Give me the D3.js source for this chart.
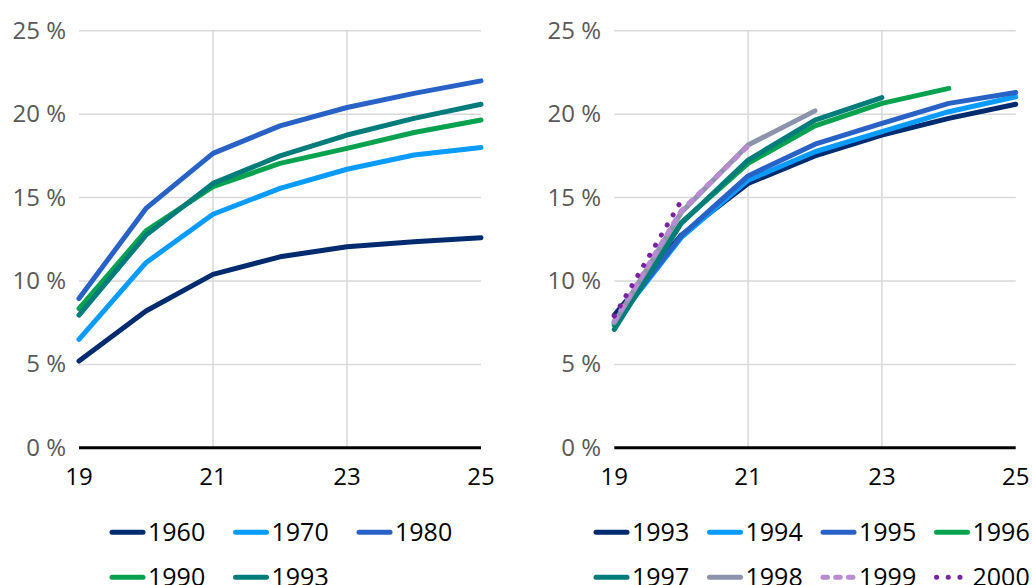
<!DOCTYPE html>
<html>
<head>
<meta charset="utf-8">
<script src="https://cdn.jsdelivr.net/npm/d3@7"></script>
<style>
  body { margin: 0; background: #fff; }
  svg text { font-family: "Open Sans", "Noto Sans", sans-serif; }
</style>
</head>
<body>
<div id="canvas"></div>
<script>
"use strict";

// ages on the x axis
const ages = [19, 20, 21, 22, 23, 24, 25];
const xTicks = [19, 21, 23, 25];
const yTicks = [0, 5, 10, 15, 20, 25];

// left panel: cohorts by decade
const leftYears = ["1960", "1970", "1980", "1990", "1993"];
const v1960 = [5.2, 8.2, 10.4, 11.45, 12.05, 12.35, 12.6];
const v1970 = [6.5, 11.1, 14.0, 15.55, 16.7, 17.55, 18.0];
const v1980 = [8.95, 14.35, 17.65, 19.3, 20.4, 21.25, 22.0];
const v1990 = [8.35, 13.0, 15.65, 17.05, 17.95, 18.9, 19.65];
const v1993 = [7.95, 12.75, 15.85, 17.5, 18.75, 19.75, 20.6];

// right panel: recent cohorts (shorter series)
const rightYears = ["1993", "1994", "1995", "1996", "1997", "1998", "1999", "2000"];
const v1994 = [7.45, 12.6, 16.05, 17.75, 18.95, 20.15, 21.05];
const v1995 = [7.55, 12.7, 16.3, 18.2, 19.45, 20.65, 21.3];
const v1996 = [7.35, 13.5, 17.05, 19.3, 20.65, 21.55];
const v1997 = [7.1, 13.45, 17.25, 19.65, 21.0];
const v1998 = [7.5, 14.1, 18.15, 20.2];
const v1999 = [7.6, 14.2, 18.1];
const v2000 = [7.9, 14.8];

const styles = {
  "1960": { color: "#002b6e", dash: null },
  "1970": { color: "#0a9bff", dash: null },
  "1980": { color: "#2862c6", dash: null },
  "1990": { color: "#07a24f", dash: null },
  "1993": { color: "#007c7a", dash: null },
  "1994": { color: "#0a9bff", dash: null },
  "1995": { color: "#2862c6", dash: null },
  "1996": { color: "#07a24f", dash: null },
  "1997": { color: "#007c7a", dash: null },
  "1998": { color: "#8e93ad", dash: null },
  "1999": { color: "#b98bd0", dash: "4.5,8.2" },
  "2000": { color: "#7b22a3", dash: "0.1,11.6" }
};

const leftSeries = [v1960, v1970, v1980, v1990, v1993];
const rightSeries = [v1993, v1994, v1995, v1996, v1997, v1998, v1999, v2000];
// 1993 is navy in the right panel
const rightColors = { "1993": "#002b6e" };

const svg = d3.select("#canvas").append("svg")
  .attr("width", 1032)
  .attr("height", 585);

function drawPanel(x0, x1, labelRight, years, series, colorOverride, legend) {
  const x = d3.scaleLinear().domain([19, 25]).range([x0, x1]);
  const y = d3.scaleLinear().domain([0, 25]).range([447.8, 30.8]);
  const g = svg.append("g");

  // horizontal gridlines
  g.selectAll(".hgrid").data(yTicks.filter(d => d > 0)).join("line")
    .attr("x1", x0).attr("x2", x1)
    .attr("y1", d => y(d)).attr("y2", d => y(d))
    .attr("stroke", "#d9d9d9").attr("stroke-width", 1.5);

  // vertical gridlines
  g.selectAll(".vgrid").data([21, 23]).join("line")
    .attr("x1", d => x(d)).attr("x2", d => x(d))
    .attr("y1", y(25)).attr("y2", y(0))
    .attr("stroke", "#d9d9d9").attr("stroke-width", 1.5);

  // y labels
  g.selectAll(".ylab").data(yTicks).join("text")
    .attr("x", labelRight)
    .attr("y", d => y(d) + 8)
    .attr("text-anchor", "end")
    .attr("font-size", 24)
    .attr("fill", "#595959")
    .text(d => d + " %");

  // x labels
  g.selectAll(".xlab").data(xTicks).join("text")
    .attr("x", d => x(d))
    .attr("y", 485)
    .attr("text-anchor", "middle")
    .attr("font-size", 24)
    .attr("fill", "#000")
    .text(d => d);

  // zero line
  g.append("line")
    .attr("x1", x0).attr("x2", x1)
    .attr("y1", y(0)).attr("y2", y(0))
    .attr("stroke", "#000").attr("stroke-width", 3);

  const line = d3.line()
    .x((d, i) => x(ages[i]))
    .y(d => y(d));

  years.forEach((yr, i) => {
    const st = styles[yr];
    g.append("path")
      .attr("d", line(series[i]))
      .attr("fill", "none")
      .attr("stroke", colorOverride[yr] || st.color)
      .attr("stroke-width", 5)
      .attr("stroke-linecap", "round")
      .attr("stroke-linejoin", "round")
      .attr("stroke-dasharray", st.dash);
  });

  // legend
  years.forEach((yr, i) => {
    const st = styles[yr];
    const col = i % legend.perRow;
    const row = Math.floor(i / legend.perRow);
    const lx = legend.x + col * legend.step;
    const ly = 532.3 + row * 45;
    g.append("line")
      .attr("x1", lx + 2).attr("x2", lx + 33)
      .attr("y1", ly).attr("y2", ly)
      .attr("stroke", colorOverride[yr] || st.color)
      .attr("stroke-width", 5)
      .attr("stroke-linecap", "round")
      .attr("stroke-dasharray", st.dash);
    g.append("text")
      .attr("x", lx + 38)
      .attr("y", ly + 8.5)
      .attr("font-size", 25)
      .attr("fill", "#000")
      .text(yr);
  });
}

drawPanel(79, 481, 66, leftYears, leftSeries, {}, { x: 110, step: 123.5, perRow: 3 });
drawPanel(614.3, 1015.7, 601, rightYears, rightSeries, rightColors, { x: 594, step: 113.5, perRow: 4 });
</script>
</body>
</html>
